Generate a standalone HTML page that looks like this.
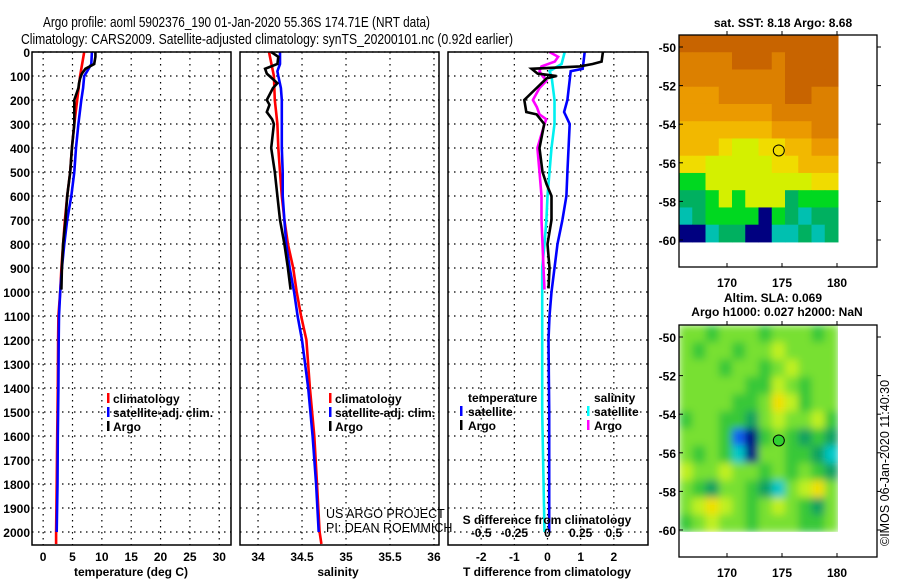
<!DOCTYPE html>
<html><head><meta charset="utf-8"><style>
html,body{margin:0;padding:0;background:#fff;}
svg{display:block;font-family:"Liberation Sans",sans-serif;}
.b{font-weight:bold;font-size:12px;}
</style></head><body>
<svg id="c" width="900" height="580" viewBox="0 0 900 580" xmlns="http://www.w3.org/2000/svg">
<text x="43" y="27" font-size="15" textLength="387" lengthAdjust="spacingAndGlyphs">Argo profile: aoml 5902376_190 01-Jan-2020 55.36S 174.71E (NRT data)</text>
<text x="21" y="44" font-size="15" textLength="492" lengthAdjust="spacingAndGlyphs">Climatology: CARS2009. Satellite-adjusted climatology: synTS_20200101.nc (0.92d earlier)</text>
<g id="g"></g>
</svg>
<script>
// ---------- data ----------
const depthTicks=[0,100,200,300,400,500,600,700,800,900,1000,1100,1200,1300,1400,1500,1600,1700,1800,1900,2000];
const tempTicks=[0,5,10,15,20,25,30];
const salTicks=[34,34.5,35,35.5,36];
const tdiffTicks=[-2,-1,0,1,2];
const sdiffTicks=[-0.5,-0.25,0,0.25,0.5];
const sdiffLabels=["-0.5","-0.25","0","0.25","0.5"];

const climDepth=[0,100,200,300,400,500,600,700,800,900,1000,1100,1200,1400,1600,1800,2000,2050];
const climTemp=[7.0,6.3,5.8,5.3,4.9,4.6,4.1,3.7,3.4,3.1,2.9,2.6,2.55,2.5,2.4,2.3,2.2,2.2];
const climSal=[34.125,34.18,34.19,34.22,34.23,34.25,34.27,34.30,34.34,34.40,34.44,34.49,34.55,34.59,34.64,34.67,34.70,34.72];

const satDepth=[0,50,80,100,150,200,300,400,500,600,700,800,900,1000,1100,1200,1400,1600,1800,2000];
const satTemp=[8.3,8.2,7.5,7.0,6.8,6.5,6.0,5.6,5.3,4.8,4.1,3.6,3.2,2.9,2.7,2.65,2.6,2.5,2.45,2.3];
const satSal=[34.25,34.25,34.22,34.23,34.26,34.27,34.27,34.27,34.28,34.28,34.30,34.32,34.36,34.41,34.45,34.50,34.57,34.62,34.66,34.69];

const argoDepth=[0,20,50,70,90,110,130,150,200,220,250,280,300,400,500,600,700,800,900,990];
const argoTemp=[8.9,8.9,8.7,7.2,6.6,6.3,6.1,6.0,5.3,5.3,5.3,5.3,5.3,4.9,4.6,4.1,3.8,3.4,3.2,3.1];
const argoSal=[34.15,34.23,34.22,34.08,34.10,34.16,34.22,34.17,34.10,34.13,34.10,34.16,34.18,34.15,34.19,34.22,34.25,34.30,34.34,34.37];

const tdSatDepth=[0,70,80,200,250,300,500,600,700,800,900,1000,1100,1200,1500,2000];
const tdSat=[1.12,1.06,0.7,0.6,0.5,0.67,0.6,0.57,0.45,0.3,0.21,0.12,0.06,0.03,0.05,0.05];
const tdArgoDepth=[0,40,50,60,70,90,100,110,150,200,250,260,300,400,500,550,600,700,800,900,985];
const tdArgo=[1.67,1.63,1.36,0.97,-0.48,-0.3,0.27,-0.03,-0.33,-0.7,-0.64,-0.33,-0.1,-0.24,-0.15,-0.03,0.12,0.12,0.0,0.06,0.03];
const sdSatDepth=[0,50,80,100,200,300,400,500,600,700,800,900,1000,1500,2000];
const sdSat=[0.13,0.106,0.015,0.03,0.053,0.053,0.03,0.015,0,-0.008,-0.023,-0.04,-0.04,-0.04,-0.023];
const sdArgoDepth=[0,20,40,60,80,100,120,150,200,230,260,280,300,400,500,600,700,800,900,990];
const sdArgo=[0.015,0.08,0.055,-0.045,-0.06,-0.038,-0.008,-0.06,-0.11,-0.08,-0.06,-0.01,-0.023,-0.076,-0.06,-0.045,-0.045,-0.038,-0.03,-0.023];

// SST map palette indices (rows top->bottom, lon 166..180)
const sstPalette=["#c86400","#dc8000","#eb9a00","#f2b800","#f0dc00","#d4f000","#00d820","#00b060","#00c0b0","#000080"];
const sstGrid=[
[0,0,0,0,0,0,0,0,0,0,0,0],
[1,1,1,1,0,0,0,1,0,0,0,0],
[1,1,1,1,1,1,1,1,0,0,0,0],
[2,2,2,1,1,1,1,1,0,0,1,1],
[2,2,2,2,2,2,2,1,1,1,1,1],
[3,3,3,3,3,3,3,2,2,2,1,1],
[3,3,3,4,5,5,4,4,3,3,2,2],
[4,4,5,5,5,5,5,4,4,3,3,3],
[6,6,5,5,5,5,5,5,5,5,4,4],
[7,7,6,5,6,5,5,5,7,6,6,6],
[8,7,6,6,6,6,9,6,7,8,7,7],
[9,9,8,7,7,9,9,8,8,7,8,7]];
const slaPalette=["#38c838","#78e030","#c0f020","#f0e000","#f0b000","#10a060","#00c8c8","#1060f0","#000080"];
const slaGrid=[
[1,1,0,1,1,1,0,1,1,1,0,1],
[1,0,1,1,0,1,1,2,1,1,1,1],
[1,1,1,0,1,1,0,1,2,1,1,1],
[1,1,1,1,1,0,0,2,1,0,1,1],
[1,1,1,1,0,0,1,3,2,0,1,1],
[0,1,1,0,0,5,1,2,1,1,2,0],
[1,1,1,0,7,8,0,1,0,5,0,5],
[1,0,1,0,6,8,1,1,0,0,5,6],
[2,1,1,2,1,1,0,1,0,1,0,5],
[1,0,5,1,1,0,5,6,1,2,3,1],
[1,2,3,2,1,0,1,2,1,0,5,1],
[0,1,2,1,1,0,1,1,1,0,0,1]];
const latTicks=[-50,-52,-54,-56,-58,-60];
const lonTicks=[170,175,180];
const floatLon=174.71, floatLat=-55.36;

// ---------- drawing ----------
const NS="http://www.w3.org/2000/svg";
const G=document.getElementById('g');
function el(tag,attrs,parent){const e=document.createElementNS(NS,tag);for(const k in attrs)e.setAttribute(k,attrs[k]);(parent||G).appendChild(e);return e;}
const Y0=52, Y1=545;
const yD=d=>Y0+d*(532-52)/2000;
const panels=[
 {x0:32,x1:231,v0:-1.9,v1:32.0},
 {x0:240,x1:439,v0:33.795,v1:36.057},
 {x0:448,x1:648,v0:-3.0,v1:3.03}];
function xf(p,v){return p.x0+(v-p.v0)/(p.v1-p.v0)*(p.x1-p.x0);}

depthTicks.forEach(d=>{
 const t=el('text',{x:30,y:yD(d)+5,'text-anchor':'end',class:'b'});
 
 
 t.textContent=d;
});

function grid(p,ticksX,xfn){
 depthTicks.forEach(d=>{
  const l=el('line',{x1:p.x0,x2:p.x1,y1:yD(d),y2:yD(d),stroke:'#000','stroke-width':1.2,'stroke-dasharray':'1.5 4.5'});
  
  
 });
 ticksX.forEach(v=>{
  const x=xfn(v);
  const l=el('line',{x1:x,x2:x,y1:Y0,y2:Y1,stroke:'#000','stroke-width':1.2,'stroke-dasharray':'1.5 4.5'});
  
  
 });
}
function frame(p,name){
 const r=el('rect',{x:p.x0,y:Y0,width:p.x1-p.x0,height:Y1-Y0,fill:'none',stroke:'#000','stroke-width':1.5});
 
 
}
function line(p,vals,depths,color,name){
 const pts=vals.map((v,i)=>xf(p,v).toFixed(1)+','+yD(depths[i]).toFixed(1)).join(' ');
 const l=el('polyline',{points:pts,fill:'none',stroke:color,'stroke-width':2.6,'stroke-linejoin':'miter'});
 
 
}
function xlabels(p,ticks,labels,y,fn){
 ticks.forEach((v,i)=>{
  const t=el('text',{x:fn(v),y:y,'text-anchor':'middle',class:'b'});
  
  
  t.textContent=labels?labels[i]:v;
 });
}
function text(x,y,s,name,extra){
 const t=el('text',Object.assign({x:x,y:y,class:'b'},extra||{}));
 
 
 t.textContent=s;return t;
}
function legMark(x,y,color){
 const r=el('rect',{x:x,y:y-10,width:2.5,height:10,fill:color});
 
 
}

const P1=panels[0];
grid(P1,tempTicks,v=>xf(P1,v));
line(P1,climTemp,climDepth,'#ff0000','temperature-climatology-line');
line(P1,satTemp,satDepth,'#0000ff','temperature-satellite-line');
line(P1,argoTemp,argoDepth,'#000000','temperature-argo-line');
frame(P1,'temperature-panel');
xlabels(P1,tempTicks,null,561,v=>xf(P1,v));
text(131,576,'temperature (deg C)','temperature-axis-title',{'text-anchor':'middle'});
[['climatology','#f00'],['satellite-adj. clim.','#00f'],['Argo','#000']].forEach((e,i)=>{
 legMark(107,403+i*14,e[1]);text(113,403+i*14,e[0],'temperature-legend-entry');
});

const P2=panels[1];
grid(P2,salTicks,v=>xf(P2,v));
line(P2,climSal,climDepth,'#ff0000','salinity-climatology-line');
line(P2,satSal,satDepth,'#0000ff','salinity-satellite-line');
line(P2,argoSal,argoDepth,'#000000','salinity-argo-line');
frame(P2,'salinity-panel');
xlabels(P2,salTicks,null,561,v=>xf(P2,v));
text(338,576,'salinity','salinity-axis-title',{'text-anchor':'middle'});
[['climatology','#f00'],['satellite-adj. clim.','#00f'],['Argo','#000']].forEach((e,i)=>{
 legMark(329,403+i*14,e[1]);text(335,403+i*14,e[0],'salinity-legend-entry');
});

const P3=panels[2];
grid(P3,tdiffTicks,v=>xf(P3,v));
line(P3,tdSat,tdSatDepth,'#0000ff','tdiff-satellite-line');
line(P3,sdSat.map(v=>v*4),sdSatDepth,'#00f0f0','sdiff-satellite-line');
line(P3,sdArgo.map(v=>v*4),sdArgoDepth,'#ff00ff','sdiff-argo-line');
line(P3,tdArgo,tdArgoDepth,'#000000','tdiff-argo-line');
frame(P3,'difference-panel');
xlabels(P3,tdiffTicks,null,561,v=>xf(P3,v));
xlabels(P3,sdiffTicks,sdiffLabels,537,v=>xf(P3,v*4));
text(547,524,'S difference from climatology','sdiff-axis-title',{'text-anchor':'middle'});
text(547,576,'T difference from climatology','tdiff-axis-title',{'text-anchor':'middle'});
text(468,402,'temperature','tdiff-legend-title');
legMark(460,416,'#00f');text(468,416,'satellite','tdiff-legend-entry');
legMark(460,430,'#000');text(468,430,'Argo','tdiff-legend-entry');
text(594,402,'salinity','sdiff-legend-title');
legMark(587,416,'#0ff');text(594,416,'satellite','sdiff-legend-entry');
legMark(587,430,'#f0f');text(594,430,'Argo','sdiff-legend-entry');

text(326,518,'US ARGO PROJECT','credit-project',{style:'font-weight:normal;font-size:12.5px'});
text(326,532,'PI: DEAN ROEMMICH','credit-pi',{style:'font-weight:normal;font-size:12.5px'});

function map(top,latY50,pal,gridData,name,blur){
 const bx0=679,bx1=877,by0=top,by1=top+232;
 const lonX=l=>727+(l-170)*11;
 const latY=l=>latY50+(-50-l)*19.3;
 const ix0=679,ix1=838,iy0=top,iy1=latY(-60.1);
 const grp=el('g',{});
 
 
 if(blur){
  const defs=el('defs',{},grp);
  const f=el('filter',{id:'bl',x:'0',y:'0',width:'1',height:'1'},defs);
  el('feGaussianBlur',{stdDeviation:4,edgeMode:'duplicate'},f);
  const cp=el('clipPath',{id:'cp'},defs);
  el('rect',{x:ix0,y:iy0,width:ix1-ix0,height:iy1-iy0},cp);
 }
 const inner=el('g',blur?{filter:'url(#bl)','clip-path':'url(#cp)'}:{},grp);
 const rows=gridData.length,cols=gridData[0].length;
 const cw=(ix1-ix0)/cols,ch=(iy1-iy0)/rows;
 gridData.forEach((row,r)=>row.forEach((v,c)=>{
  const rc=el('rect',{x:ix0+c*cw,y:iy0+r*ch,width:cw+0.5,height:ch+0.5,fill:pal[v]},inner);
  
  
 }));
 const fr=el('rect',{x:bx0,y:by0,width:bx1-bx0,height:by1-by0,fill:'none',stroke:'#000','stroke-width':1.3});
 
 
 latTicks.forEach(l=>{
  const y=latY(l);
  el('line',{x1:bx0,x2:bx0+4,y1:y,y2:y,stroke:'#000'});
  el('line',{x1:bx1,x2:bx1+4,y1:y,y2:y,stroke:'#000'});
  text(676,y+5,l,'latitude-tick-label',{'text-anchor':'end'});
 });
 lonTicks.forEach(l=>{
  const x=lonX(l);
  el('line',{x1:x,x2:x,y1:by0-4,y2:by0,stroke:'#000'});
  el('line',{x1:x,x2:x,y1:by1-4,y2:by1,stroke:'#000'});
  text(x,by1+20,l,'longitude-tick-label',{'text-anchor':'middle'});
 });
 const cc=el('circle',{cx:lonX(floatLon),cy:latY(floatLat),r:5.5,fill:blur?'#30d030':'none',stroke:'#000','stroke-width':1});
 
 
}
map(35,47,sstPalette,sstGrid,'sst-map',false);
map(325,337,slaPalette,slaGrid,'sla-map',true);
text(783,27,'sat. SST: 8.18 Argo: 8.68','sst-map-title',{'text-anchor':'middle'});
text(773,302,'Altim. SLA: 0.069','sla-map-title',{'text-anchor':'middle'});
text(777,316,'Argo h1000: 0.027 h2000: NaN','sla-map-subtitle',{'text-anchor':'middle'});
const im=el('text',{x:0,y:0,'font-size':'12.5',transform:'translate(889,546) rotate(-90)'});


im.textContent='©IMOS 06-Jan-2020 11:40:30';
</script>
</body></html>
